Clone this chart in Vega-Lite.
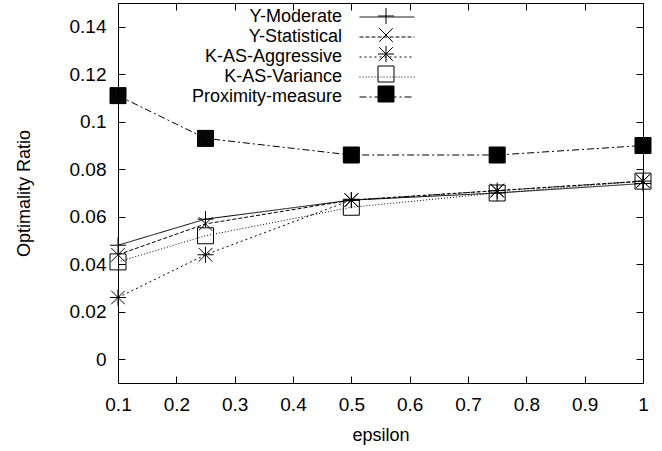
{
  "$schema": "https://vega.github.io/schema/vega-lite/v6.json",
  "width": 525,
  "height": 380,
  "autosize": {"type": "none"},
  "padding": {"left": 118, "top": 3, "right": 19, "bottom": 68},
  "background": "white",
  "config": {
    "view": {"stroke": "black", "strokeWidth": 1},
    "font": "Liberation Sans",
    "axis": {
      "grid": false,
      "domain": false,
      "labelFont": "Liberation Sans",
      "labelFontSize": 19,
      "labelColor": "black",
      "titleFont": "Liberation Sans",
      "titleFontSize": 18,
      "titleFontWeight": "normal",
      "titleColor": "black"
    }
  },
  "data": {
    "values": [
      {"series": "Y-Moderate", "epsilon": 0.1, "ratio": 0.048},
      {"series": "Y-Moderate", "epsilon": 0.25, "ratio": 0.059},
      {"series": "Y-Moderate", "epsilon": 0.5, "ratio": 0.067},
      {"series": "Y-Moderate", "epsilon": 0.75, "ratio": 0.070},
      {"series": "Y-Moderate", "epsilon": 1.0, "ratio": 0.074},
      {"series": "Y-Statistical", "epsilon": 0.1, "ratio": 0.044},
      {"series": "Y-Statistical", "epsilon": 0.25, "ratio": 0.057},
      {"series": "Y-Statistical", "epsilon": 0.5, "ratio": 0.067},
      {"series": "Y-Statistical", "epsilon": 0.75, "ratio": 0.071},
      {"series": "Y-Statistical", "epsilon": 1.0, "ratio": 0.075},
      {"series": "K-AS-Aggressive", "epsilon": 0.1, "ratio": 0.026},
      {"series": "K-AS-Aggressive", "epsilon": 0.25, "ratio": 0.044},
      {"series": "K-AS-Aggressive", "epsilon": 0.5, "ratio": 0.067},
      {"series": "K-AS-Aggressive", "epsilon": 0.75, "ratio": 0.071},
      {"series": "K-AS-Aggressive", "epsilon": 1.0, "ratio": 0.075},
      {"series": "K-AS-Variance", "epsilon": 0.1, "ratio": 0.041},
      {"series": "K-AS-Variance", "epsilon": 0.25, "ratio": 0.052},
      {"series": "K-AS-Variance", "epsilon": 0.5, "ratio": 0.064},
      {"series": "K-AS-Variance", "epsilon": 0.75, "ratio": 0.070},
      {"series": "K-AS-Variance", "epsilon": 1.0, "ratio": 0.075},
      {"series": "Proximity-measure", "epsilon": 0.1, "ratio": 0.111},
      {"series": "Proximity-measure", "epsilon": 0.25, "ratio": 0.093},
      {"series": "Proximity-measure", "epsilon": 0.5, "ratio": 0.086},
      {"series": "Proximity-measure", "epsilon": 0.75, "ratio": 0.086},
      {"series": "Proximity-measure", "epsilon": 1.0, "ratio": 0.090}
    ]
  },
  "layer": [
    {
      "mark": {"type": "line", "stroke": "black", "strokeWidth": 1},
      "encoding": {
        "x": {
          "field": "epsilon", "type": "quantitative",
          "scale": {"domain": [0.1, 1], "nice": false, "zero": false},
          "axis": {"orient": "bottom", "values": [0.1, 0.2, 0.3, 0.4, 0.5, 0.6, 0.7, 0.8, 0.9, 1], "format": "~g", "title": "epsilon",
            "ticks": true, "tickSize": 7, "tickColor": "black", "tickWidth": 1, "tickOpacity": 1, "offset": -7,
            "labelFlush": false, "labelOverlap": false, "labelPadding": 12, "titlePadding": 12}
        },
        "y": {
          "field": "ratio", "type": "quantitative",
          "scale": {"domain": [-0.01, 0.15], "nice": false, "zero": false},
          "axis": {"orient": "left", "values": [0, 0.02, 0.04, 0.06, 0.08, 0.1, 0.12, 0.14], "format": "~g", "title": "Optimality Ratio",
            "ticks": true, "tickSize": 7, "tickColor": "black", "tickWidth": 1, "tickOpacity": 1, "offset": -7,
            "labelFlush": false, "labelOverlap": false, "labelPadding": 12, "titlePadding": 36}
        },
        "strokeDash": {
          "field": "series", "type": "nominal",
          "sort": ["Y-Moderate", "Y-Statistical", "K-AS-Aggressive", "K-AS-Variance", "Proximity-measure"],
          "scale": {"range": [[1, 0], [4, 2], [2, 3], [1, 2], [7, 3, 2, 3]]},
          "legend": {
            "title": null, "orient": "none", "legendX": 260, "legendY": 5, "padding": 0, "direction": "vertical",
            "symbolType": "M-4,0L4,0", "symbolSize": 189, "symbolStrokeColor": "black", "symbolStrokeWidth": 1, "symbolFillColor": "transparent",
            "labelFont": "Liberation Sans", "labelFontSize": 18, "labelColor": "black", "labelLimit": 400, "rowPadding": 2,
            "encode": {"labels": {"update": {"x": {"value": -36}, "align": {"value": "right"}}}}
          }
        }
      }
    },
    {
      "mark": {"type": "point", "stroke": "black", "strokeWidth": 1, "opacity": 1, "size": 256, "fill": "transparent"},
      "encoding": {
        "x": {
          "field": "epsilon", "type": "quantitative",
          "axis": {"orient": "top", "values": [0.1, 0.2, 0.3, 0.4, 0.5, 0.6, 0.7, 0.8, 0.9, 1], "labels": false, "title": null,
            "ticks": true, "tickSize": 7, "tickColor": "black", "tickWidth": 1, "tickOpacity": 1, "offset": -7}
        },
        "y": {
          "field": "ratio", "type": "quantitative",
          "axis": {"orient": "right", "values": [0, 0.02, 0.04, 0.06, 0.08, 0.1, 0.12, 0.14], "labels": false, "title": null,
            "ticks": true, "tickSize": 7, "tickColor": "black", "tickWidth": 1, "tickOpacity": 1, "offset": -7}
        },
        "shape": {
          "field": "series", "type": "nominal",
          "scale": {
            "domain": ["Y-Moderate", "Y-Statistical", "K-AS-Aggressive", "K-AS-Variance", "Proximity-measure"],
            "range": [
              "M-1,0L1,0M0,-1L0,1",
              "M-0.85,-0.85L0.85,0.85M-0.85,0.85L0.85,-0.85",
              "M-1,0L1,0M0,-1L0,1M-0.85,-0.85L0.85,0.85M-0.85,0.85L0.85,-0.85",
              "M-1,-1H1V1H-1Z",
              "M-1,-1H1V1H-1ZM-1,-0.9375H1M-1,-0.875H1M-1,-0.8125H1M-1,-0.75H1M-1,-0.6875H1M-1,-0.625H1M-1,-0.5625H1M-1,-0.5H1M-1,-0.4375H1M-1,-0.375H1M-1,-0.3125H1M-1,-0.25H1M-1,-0.1875H1M-1,-0.125H1M-1,-0.0625H1M-1,0H1M-1,0.0625H1M-1,0.125H1M-1,0.1875H1M-1,0.25H1M-1,0.3125H1M-1,0.375H1M-1,0.4375H1M-1,0.5H1M-1,0.5625H1M-1,0.625H1M-1,0.6875H1M-1,0.75H1M-1,0.8125H1M-1,0.875H1M-1,0.9375H1"
            ]
          },
          "legend": {
            "title": null, "orient": "none", "legendX": 259, "legendY": 4, "padding": 0, "direction": "vertical",
            "symbolSize": 256, "symbolStrokeColor": "black", "symbolStrokeWidth": 1, "symbolFillColor": "transparent",
            "labelFont": "Liberation Sans", "labelFontSize": 18, "labelColor": "transparent", "labelLimit": 400, "rowPadding": 0
          }
        }
      }
    }
  ],
  "resolve": {"axis": {"x": "independent", "y": "independent"}}
}
